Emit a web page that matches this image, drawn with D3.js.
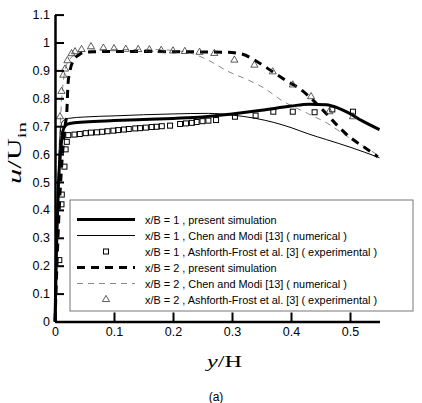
<!DOCTYPE html>
<html>
<head>
<meta charset="utf-8">
<script src="https://cdn.jsdelivr.net/npm/d3@7"></script>
<style>
  body { margin: 0; background: #fff; }
  svg { display: block; }
  .axis text { font-family: "Liberation Sans", Arial, sans-serif; font-size: 12.5px; fill: #000; }
</style>
</head>
<body>
<div id="chart"></div>
<script>
// tick labels
const xTicks = [0, 0.1, 0.2, 0.3, 0.4, 0.5];
const xTickLabels = ['0', '0.1', '0.2', '0.3', '0.4', '0.5'];
const yTicks = [0, 0.1, 0.2, 0.3, 0.4, 0.5, 0.6, 0.7, 0.8, 0.9, 1, 1.1];
const yTickLabels = ['0', '0.1', '0.2', '0.3', '0.4', '0.5', '0.6', '0.7', '0.8', '0.9', '1', '1.1'];

// x/B = 1, present simulation
const sim1X = [0, 0.003, 0.006, 0.01, 0.013, 0.018, 0.025, 0.05, 0.1, 0.15, 0.2, 0.25, 0.3, 0.35, 0.4, 0.43, 0.46, 0.48, 0.5, 0.52, 0.55];
const sim1Y = [0, 0.3, 0.5, 0.62, 0.68, 0.703, 0.71, 0.715, 0.72, 0.724, 0.728, 0.733, 0.744, 0.757, 0.772, 0.779, 0.777, 0.765, 0.745, 0.72, 0.688];

// x/B = 1, Chen and Modi
const chen1X = [0, 0.004, 0.008, 0.012, 0.0225, 0.05, 0.1, 0.15, 0.2, 0.26, 0.3, 0.34, 0.37, 0.4, 0.43, 0.46, 0.5, 0.55];
const chen1Y = [0, 0.4, 0.65, 0.715, 0.728, 0.733, 0.737, 0.741, 0.744, 0.746, 0.74, 0.728, 0.714, 0.695, 0.672, 0.652, 0.625, 0.587];

// x/B = 1, Ashforth-Frost (experimental)
const exp1X = [0.0073, 0.011, 0.0115, 0.016, 0.018, 0.02, 0.0225, 0.033, 0.042, 0.052, 0.061, 0.071, 0.08, 0.089, 0.099, 0.107, 0.117, 0.125, 0.136, 0.144, 0.154, 0.164, 0.172, 0.181, 0.195, 0.212, 0.222, 0.232, 0.24, 0.25, 0.26, 0.273, 0.305, 0.34, 0.37, 0.403, 0.44, 0.47, 0.505];
const exp1Y = [0.22, 0.42, 0.455, 0.555, 0.617, 0.644, 0.668, 0.67, 0.672, 0.675, 0.677, 0.678, 0.68, 0.682, 0.684, 0.686, 0.688, 0.69, 0.692, 0.693, 0.695, 0.697, 0.698, 0.7, 0.702, 0.708, 0.71, 0.712, 0.715, 0.718, 0.72, 0.722, 0.734, 0.738, 0.752, 0.752, 0.75, 0.76, 0.752];

// x/B = 2, present simulation
const sim2X = [0, 0.006, 0.012, 0.017, 0.02, 0.021, 0.022, 0.025, 0.031, 0.04, 0.05, 0.1, 0.2, 0.29, 0.318, 0.338, 0.369, 0.394, 0.414, 0.434, 0.462, 0.482, 0.502, 0.524, 0.547];
const sim2Y = [0, 0.35, 0.58, 0.7, 0.75, 0.8, 0.85, 0.895, 0.935, 0.955, 0.965, 0.968, 0.967, 0.965, 0.958, 0.937, 0.895, 0.86, 0.836, 0.8, 0.74, 0.695, 0.657, 0.625, 0.59];

// x/B = 2, Chen and Modi
const chen2X = [0, 0.005, 0.01, 0.017, 0.025, 0.04, 0.06, 0.1, 0.15, 0.2, 0.24, 0.27, 0.29, 0.327, 0.355, 0.383, 0.428, 0.462, 0.496, 0.524, 0.547];
const chen2Y = [0, 0.5, 0.75, 0.9, 0.94, 0.962, 0.972, 0.975, 0.975, 0.972, 0.955, 0.925, 0.9, 0.866, 0.836, 0.794, 0.746, 0.71, 0.662, 0.627, 0.597];

// x/B = 2, Ashforth-Frost (experimental)
const exp2X = [0.0085, 0.011, 0.014, 0.017, 0.021, 0.028, 0.034, 0.045, 0.061, 0.082, 0.1, 0.12, 0.141, 0.16, 0.18, 0.2, 0.22, 0.245, 0.27, 0.304, 0.338, 0.369, 0.403, 0.434, 0.465, 0.505];
const exp2Y = [0.734, 0.825, 0.883, 0.905, 0.935, 0.96, 0.967, 0.975, 0.985, 0.98, 0.978, 0.976, 0.975, 0.974, 0.972, 0.97, 0.968, 0.965, 0.961, 0.937, 0.919, 0.895, 0.848, 0.806, 0.752, 0.734];

const legendLabels = [
  'x/B = 1 , present simulation',
  'x/B = 1 , Chen and Modi [13] ( numerical )',
  'x/B = 1 , Ashforth-Frost et al. [3] ( experimental )',
  'x/B = 2 , present simulation',
  'x/B = 2 , Chen and Modi [13] ( numerical )',
  'x/B = 2 , Ashforth-Frost et al. [3] ( experimental )'
];

const width = 422, height = 403;

const svg = d3.select('#chart').append('svg')
  .attr('width', width)
  .attr('height', height);

const x = d3.scaleLinear().domain([0, 0.55]).range([55, 379.5]);
const y = d3.scaleLinear().domain([0, 1.1]).range([321.5, 14.6]);

const zip = (xs, ys) => xs.map((v, i) => [v, ys[i]]);
const line = d3.line().x(d => x(d[0])).y(d => y(d[1])).curve(d3.curveMonotoneX);

// line styles
const styles = {
  sim1: { stroke: '#000', width: 3, dash: null },
  chen1: { stroke: '#000', width: 1, dash: null },
  sim2: { stroke: '#000', width: 3, dash: '8,6' },
  chen2: { stroke: '#888', width: 1, dash: '6,5' }
};

function drawLine(pts, st) {
  svg.append('path')
    .attr('d', line(pts))
    .attr('fill', 'none')
    .attr('stroke', st.stroke)
    .attr('stroke-width', st.width)
    .attr('stroke-dasharray', st.dash);
}

drawLine(zip(chen2X, chen2Y), styles.chen2);
drawLine(zip(chen1X, chen1Y), styles.chen1);
drawLine(zip(sim2X, sim2Y), styles.sim2);
drawLine(zip(sim1X, sim1Y), styles.sim1);

// markers
const tri = d3.symbol().type(d3.symbolTriangle).size(22);
function square(g, cx, cy) {
  g.append('rect').attr('x', cx - 2.5).attr('y', cy - 2.5).attr('width', 5).attr('height', 5)
    .attr('fill', 'none').attr('stroke', '#000').attr('stroke-width', 1);
}
function triangle(g, cx, cy) {
  g.append('path').attr('d', tri).attr('transform', 'translate(' + cx + ',' + cy + ')')
    .attr('fill', 'none').attr('stroke', '#333').attr('stroke-width', 0.8);
}

const marks = svg.append('g');
zip(exp1X, exp1Y).forEach(d => square(marks, x(d[0]), y(d[1])));
zip(exp2X, exp2Y).forEach(d => triangle(marks, x(d[0]), y(d[1])));

// axes
const xAxis = svg.append('g')
  .attr('class', 'axis')
  .attr('transform', 'translate(0,' + y(0) + ')')
  .call(d3.axisBottom(x).tickValues(xTicks).tickFormat((d, i) => xTickLabels[i])
    .tickSizeInner(-9).tickSizeOuter(0).tickPadding(6));
const yAxis = svg.append('g')
  .attr('class', 'axis')
  .attr('transform', 'translate(' + x(0) + ',0)')
  .call(d3.axisLeft(y).tickValues(yTicks).tickFormat((d, i) => yTickLabels[i])
    .tickSizeInner(-9).tickSizeOuter(0).tickPadding(5));
svg.selectAll('.axis .domain').attr('stroke', '#000').attr('stroke-width', 2.5);
svg.selectAll('.axis .tick line').attr('stroke', '#000').attr('stroke-width', 2);
xAxis.selectAll('text').attr('dy', '0.71em');

// legend
const legend = svg.append('g');
legend.append('rect')
  .attr('x', 70).attr('y', 200).attr('width', 343).attr('height', 111)
  .attr('fill', '#fff').attr('stroke', '#777').attr('stroke-width', 1);

const legendKinds = ['sim1', 'chen1', 'exp1', 'sim2', 'chen2', 'exp2'];
legendKinds.forEach(function(k, i) {
  const ly = 219.5 + i * 16;
  if (styles[k]) {
    legend.append('line')
      .attr('x1', 77).attr('x2', 135).attr('y1', ly).attr('y2', ly)
      .attr('stroke', styles[k].stroke)
      .attr('stroke-width', styles[k].width)
      .attr('stroke-dasharray', styles[k].dash);
  } else if (k === 'exp1') {
    square(legend, 106, ly);
  } else {
    triangle(legend, 106, ly);
  }
  legend.append('text')
    .attr('x', 145).attr('y', ly + 4)
    .attr('font-family', '"Liberation Sans", Arial, sans-serif')
    .attr('font-size', 10.9)
    .text(legendLabels[i]);
});

// axis titles
const yTitle = svg.append('text')
  .attr('transform', 'translate(21,153) rotate(-90)')
  .attr('text-anchor', 'middle')
  .attr('font-family', '"Liberation Serif", "Times New Roman", serif')
  .attr('font-size', 19)
  .attr('textLength', 62)
  .attr('lengthAdjust', 'spacingAndGlyphs');
yTitle.append('tspan').attr('font-style', 'italic').text('u');
yTitle.append('tspan').text('/U');
yTitle.append('tspan').attr('font-size', 13).attr('dy', 5).text('in');

const xTitle = svg.append('text')
  .attr('x', 224.5).attr('y', 367)
  .attr('text-anchor', 'middle')
  .attr('font-family', '"Liberation Serif", "Times New Roman", serif')
  .attr('font-size', 16)
  .attr('textLength', 35)
  .attr('lengthAdjust', 'spacingAndGlyphs');
xTitle.append('tspan').attr('font-style', 'italic').text('y');
xTitle.append('tspan').text('/H');

svg.append('text')
  .attr('x', 216).attr('y', 401)
  .attr('text-anchor', 'middle')
  .attr('font-family', '"Liberation Sans", Arial, sans-serif')
  .attr('font-size', 12)
  .text('(a)');
</script>
</body>
</html>
